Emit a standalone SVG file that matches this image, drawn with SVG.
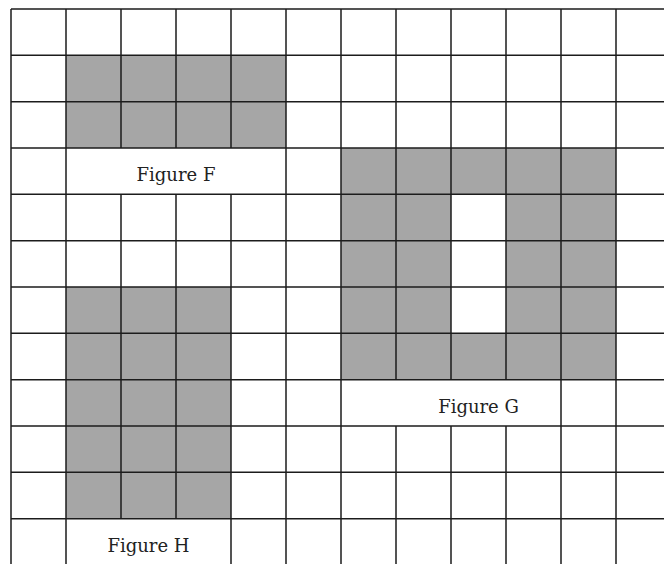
<svg xmlns="http://www.w3.org/2000/svg" width="664" height="564" viewBox="0 0 664 564">
<style>
.shade{fill:#a6a6a6}
.grid{stroke:#1c1c1c;stroke-width:1.5;fill:none}
.lbl{font-family:"DejaVu Serif","Liberation Serif",serif;font-size:18px;fill:#222;text-anchor:middle}
</style>
<rect x="0" y="0" width="664" height="564" fill="#fff"/>
<g id="figureF">
<rect class="shade" x="66" y="55.33" width="220" height="92.67"/>
<text class="lbl" x="176" y="180.5">Figure F</text>
</g>
<g id="figureG">
<rect class="shade" x="341" y="148" width="275" height="231.67"/>
<rect fill="#fff" x="451" y="194.33" width="55" height="139"/>
<text class="lbl" x="478.5" y="412.5">Figure G</text>
</g>
<g id="figureH">
<rect class="shade" x="66" y="287" width="165" height="231.67"/>
<text class="lbl" x="148.5" y="551.5">Figure H</text>
</g>
<g id="grid" class="grid">
<path d="M11 9H664M11 55.33H664M11 101.67H664M11 148H664M11 194.33H664M11 240.67H664M11 287H664M11 333.33H664M11 379.67H664M11 426H664M11 472.33H664M11 518.67H664"/>
<path d="M11 9V564M66 9V564M286 9V564M341 9V564M561 9V564M616 9V564"/>
<path d="M121 9V148M121 194.33V518.67M176 9V148M176 194.33V518.67M231 9V148M231 194.33V564"/>
<path d="M396 9V379.67M396 426V564M451 9V379.67M451 426V564M506 9V379.67M506 426V564"/>
</g>
</svg>
